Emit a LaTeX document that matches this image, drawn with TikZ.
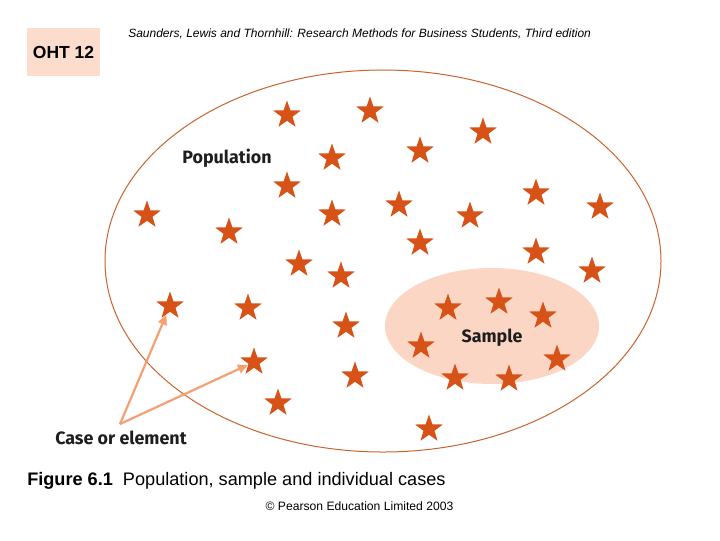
\documentclass[tikz,border=0pt]{standalone}
\usepackage{fontspec}
\setmainfont{Liberation Sans}
\newfontfamily\fira{Fira Sans}
\usetikzlibrary{shapes.geometric,arrows.meta}
\definecolor{starc}{RGB}{214,82,22}
\definecolor{ringc}{RGB}{200,100,45}
\definecolor{peach}{RGB}{252,214,196}
\definecolor{boxc}{RGB}{251,220,205}
\definecolor{arrc}{RGB}{245,160,115}
\definecolor{txt}{RGB}{30,30,30}
\tikzset{
  st/.style={star,star points=5,star point ratio=2.5,fill=starc,draw=none,minimum size=21.75pt,inner sep=0pt},
  lbl/.style={font=\fira\bfseries\fontsize{13.4}{15}\selectfont,text=txt,inner sep=0pt},
  arr/.style={draw=arrc,line width=1.65pt,-{Triangle[length=7.5pt,width=6.75pt]}},
}
\begin{document}
\begin{tikzpicture}[x=0.75pt,y=-0.75pt]
\useasboundingbox (0,0) rectangle (720,540);
\fill[white] (0,0) rectangle (720,540);
% header
\node[fill=boxc,minimum width=54.75pt,minimum height=36pt,inner sep=0pt] (oht) at (63.5,52) {\bfseries\fontsize{13.1}{15}\selectfont OHT 12};
\node[anchor=west,inner sep=0pt] (hdr) at (128,34) {\itshape\fontsize{9}{11}\selectfont Saunders, Lewis and Thornhill: Research Methods for Business Students, Third edition};
% population ellipse
\draw[ringc,line width=0.75pt] (383,261) ellipse [x radius=278, y radius=191];
\fill[peach] (492,326) ellipse [x radius=107, y radius=58];
\node[lbl] (pop) at (227,158) {Population};
\node[lbl] (smp) at (492,338) {Sample};
\node[lbl,anchor=west] (case) at (55,438) {Case or element};
% stars
\foreach \n/\x/\y in {1/287/115,2/370/111,3/483/132,4/332/158,5/420/151,6/287/186,7/147/215,8/229/232,9/332/214,10/399/205,11/470/216,12/536/193,13/600/207,14/420/243,15/299/264,16/341/276,17/536/252,18/592/271,19/170/306,20/248/308,21/346/326,22/254/362,23/355/376,24/278/403,25/429/429,26/448/308,27/499/302,28/543/316,29/421/346,30/557/359,31/455/378,32/509/379}
  \node[st] (s\n) at (\x,\y) {};
% arrows
\coordinate (c) at (120,424);
\draw[arr] (c) -- (s19);
\draw[arr] (c) -- (s22);
% caption
\node[anchor=west,inner sep=0pt] (cap) at (27,481) {\fontsize{13.6}{15}\selectfont\textbf{Figure 6.1}\ \ Population, sample and individual cases};
\node[inner sep=0pt] (copy) at (359.5,506) {\fontsize{9.1}{11}\selectfont \textcopyright{} Pearson Education Limited 2003};
\end{tikzpicture}
\end{document}
